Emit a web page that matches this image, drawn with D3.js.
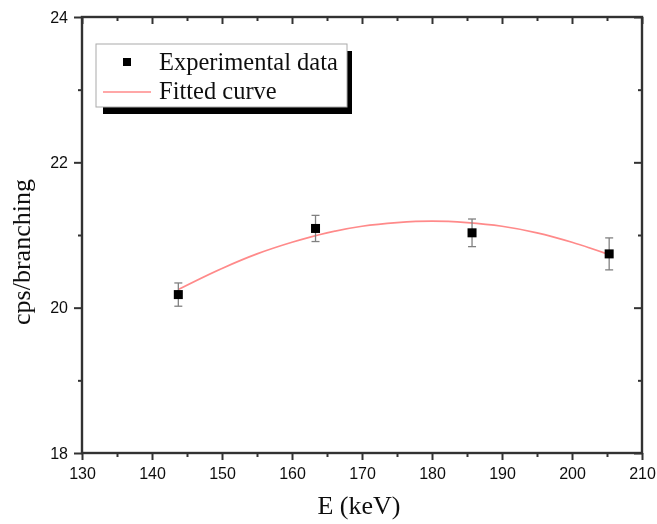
<!DOCTYPE html>
<html>
<head>
<meta charset="utf-8">
<script src="https://cdn.jsdelivr.net/npm/d3@7"></script>
<style>
  html, body { margin: 0; padding: 0; background: #fff; }
  svg { display: block; }
  .tick text { font-family: "Liberation Sans", Arial, sans-serif; font-size: 16px; fill: #111; }
  .title { font-family: "Liberation Serif", "Times New Roman", serif; fill: #111; }
</style>
</head>
<body>
<svg id="chart" width="657" height="524"></svg>
<script>
// Measured gamma lines (keV) and normalised count rate
const energies = [143.76, 163.36, 185.72, 205.31];
const cpsPerBranching = [20.18, 21.09, 21.03, 20.74];
const errors = [0.16, 0.18, 0.19, 0.22];

// Fitted curve sampled along the energy range
const fitEnergies = [143.76, 150, 155, 160, 165, 170, 175, 180, 185, 190, 195, 200, 205.31];
const fitValues = [20.25, 20.54, 20.74, 20.90, 21.03, 21.12, 21.17, 21.19, 21.17, 21.12, 21.03, 20.90, 20.73];

// Axis ticks
const xMajorTicks = [130, 140, 150, 160, 170, 180, 190, 200, 210];
const xMinorTicks = [135, 145, 155, 165, 175, 185, 195, 205];
const yMajorTicks = [18, 20, 22, 24];
const yMinorTicks = [19, 21, 23];

const legendLabels = ["Experimental data", "Fitted curve"];

const W = 657, H = 524;
const margin = { top: 17, right: 15, bottom: 71, left: 82 };
const svg = d3.select("#chart");

// Slight softening of all strokes and text
svg.append("defs").append("filter").attr("id", "soft")
  .attr("x", "-5%").attr("y", "-5%").attr("width", "110%").attr("height", "110%")
  .append("feGaussianBlur").attr("stdDeviation", 0.45);
const root = svg.append("g").attr("filter", "url(#soft)");

const x = d3.scaleLinear().domain([130, 210]).range([margin.left, W - margin.right]);
const y = d3.scaleLinear().domain([18, 24]).range([H - margin.bottom, margin.top]);

const axisColor = "#333";

function styleAxis(g) {
  g.select(".domain").remove();
  g.selectAll(".tick line").attr("stroke", axisColor).attr("stroke-width", 2);
}

// Bottom axis: labelled majors, short minors, pointing outward
root.append("g").attr("transform", `translate(0,${y(18)})`)
  .call(d3.axisBottom(x).tickValues(xMajorTicks).tickSize(7).tickPadding(8).tickFormat(d3.format("d")))
  .call(styleAxis);
root.append("g").attr("transform", `translate(0,${y(18)})`)
  .call(d3.axisBottom(x).tickValues(xMinorTicks).tickSize(4).tickFormat(""))
  .call(styleAxis);

// Left axis
root.append("g").attr("transform", `translate(${x(130)},0)`)
  .call(d3.axisLeft(y).tickValues(yMajorTicks).tickSize(8).tickPadding(6).tickFormat(d3.format("d")))
  .call(styleAxis);
root.append("g").attr("transform", `translate(${x(130)},0)`)
  .call(d3.axisLeft(y).tickValues(yMinorTicks).tickSize(4).tickFormat(""))
  .call(styleAxis);

// Top and right mirror axes, ticks pointing inward
root.append("g").attr("transform", `translate(0,${y(24)})`)
  .call(d3.axisTop(x).tickValues(xMajorTicks).tickSize(-7).tickFormat(""))
  .call(styleAxis);
root.append("g").attr("transform", `translate(0,${y(24)})`)
  .call(d3.axisTop(x).tickValues(xMinorTicks).tickSize(-4).tickFormat(""))
  .call(styleAxis);
root.append("g").attr("transform", `translate(${x(210)},0)`)
  .call(d3.axisRight(y).tickValues(yMajorTicks).tickSize(-8).tickFormat(""))
  .call(styleAxis);
root.append("g").attr("transform", `translate(${x(210)},0)`)
  .call(d3.axisRight(y).tickValues(yMinorTicks).tickSize(-4).tickFormat(""))
  .call(styleAxis);

// Frame
root.append("rect")
  .attr("x", x(130)).attr("y", y(24))
  .attr("width", x(210) - x(130)).attr("height", y(18) - y(24))
  .attr("fill", "none").attr("stroke", axisColor).attr("stroke-width", 2.4);

// Fitted curve
const fitData = fitEnergies.map((e, i) => [e, fitValues[i]]);
root.append("path")
  .datum(fitData)
  .attr("fill", "none")
  .attr("stroke", "#ff8a8a")
  .attr("stroke-width", 1.7)
  .attr("d", d3.line().x(d => x(d[0])).y(d => y(d[1])).curve(d3.curveMonotoneX));

// Error bars and points
const pts = energies.map((e, i) => ({ e, v: cpsPerBranching[i], err: errors[i] }));
const eb = root.append("g").attr("stroke", "#808080").attr("stroke-width", 1.3);
pts.forEach(p => {
  eb.append("line").attr("x1", x(p.e)).attr("x2", x(p.e)).attr("y1", y(p.v - p.err)).attr("y2", y(p.v + p.err));
  [p.v - p.err, p.v + p.err].forEach(v => {
    eb.append("line").attr("x1", x(p.e) - 4).attr("x2", x(p.e) + 4).attr("y1", y(v)).attr("y2", y(v));
  });
});
const sq = 9;
root.append("g").selectAll("rect").data(pts).join("rect")
  .attr("x", d => x(d.e) - sq / 2).attr("y", d => y(d.v) - sq / 2)
  .attr("width", sq).attr("height", sq).attr("fill", "#000");

// Legend with drop shadow
const lg = root.append("g");
lg.append("rect").attr("x", 103).attr("y", 51).attr("width", 249).attr("height", 63).attr("fill", "#000");
lg.append("rect").attr("x", 96).attr("y", 44).attr("width", 251).attr("height", 63)
  .attr("fill", "#fff").attr("stroke", "#aaa").attr("stroke-width", 1);
lg.append("rect").attr("x", 127 - 4).attr("y", 62 - 4).attr("width", 8).attr("height", 8).attr("fill", "#000");
lg.append("line").attr("x1", 103).attr("x2", 151).attr("y1", 92).attr("y2", 92)
  .attr("stroke", "#ff8a8a").attr("stroke-width", 1.7);
lg.append("text").attr("class", "title").attr("x", 159).attr("y", 70).attr("font-size", 24.5).text(legendLabels[0]);
lg.append("text").attr("class", "title").attr("x", 159).attr("y", 99).attr("font-size", 24.5).text(legendLabels[1]);

// Axis titles
root.append("text").attr("class", "title")
  .attr("x", (x(130) + x(210)) / 2 - 3).attr("y", 514)
  .attr("text-anchor", "middle").attr("font-size", 26).text("E (keV)");
root.append("text").attr("class", "title")
  .attr("transform", `translate(30,252) rotate(-90)`)
  .attr("text-anchor", "middle").attr("font-size", 26).text("cps/branching");
</script>
</body>
</html>
